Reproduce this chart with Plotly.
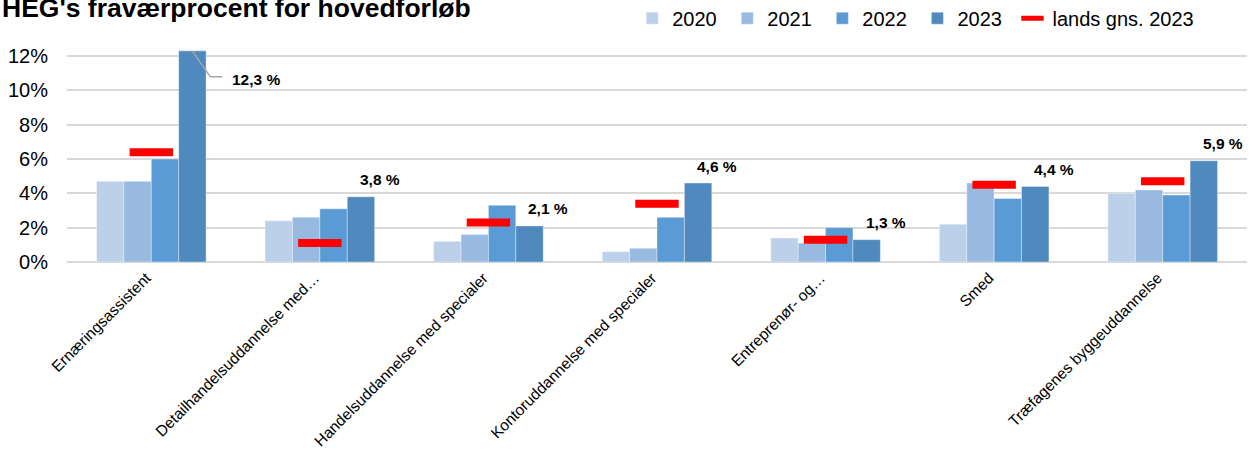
import plotly.graph_objects as go

categories = ["Ernæringsassistent", "Detailhandelsuddannelse med…", "Handelsuddannelse med specialer",
              "Kontoruddannelse med specialer", "Entreprenør- og…", "Smed", "Træfagenes byggeuddannelse"]
years = ["2020", "2021", "2022", "2023"]
v2020 = [4.7, 2.4, 1.2, 0.6, 1.4, 2.2, 4.0]
v2021 = [4.7, 2.6, 1.6, 0.8, 1.1, 4.6, 4.2]
v2022 = [6.0, 3.1, 3.3, 2.6, 2.0, 3.7, 3.9]
v2023 = [12.3, 3.8, 2.1, 4.6, 1.3, 4.4, 5.9]
lands_avg = [6.4, 1.1, 2.3, 3.4, 1.3, 4.5, 4.7]
avg_name = "lands gns. 2023"
ytick_vals = [0, 2, 4, 6, 8, 10, 12]
ytick_text = [f"{v}%" for v in ytick_vals]

colors = ["#BDD0EA", "#98B9E0", "#5B9BD5", "#4F89BD"]
FONT = "Liberation Sans, Arial, sans-serif"

fig = go.Figure()
for name, vals, col in zip(years, [v2020, v2021, v2022, v2023], colors):
    fig.add_trace(go.Bar(x=categories, y=vals, name=name + "\u00a0",
                         marker=dict(color=col, line=dict(color="rgba(255,255,255,0.6)", width=0.6))))

fig.add_trace(go.Scatter(x=categories, y=lands_avg, name=avg_name, mode="markers",
                         marker=dict(symbol="line-ew", size=31, color="#FF0000",
                                     line=dict(color="#FF0000", width=8))))

# data labels for 2023
for i, (c, v) in enumerate(zip(categories, v2023)):
    txt = f"{v:.1f}".replace(".", ",") + " %"
    if i == 0:
        fig.add_annotation(x=c, y=v, text=f"<b>{txt}</b>", showarrow=False,
                           xshift=105, yshift=-29, font=dict(size=15.5, color="#000000", family=FONT))
    else:
        fig.add_annotation(x=c, y=v, text=f"<b>{txt}</b>", showarrow=False,
                           xshift=60, yshift=17, yanchor="middle",
                           font=dict(size=15.5, color="#000000", family=FONT))

# leader line for the first label
fig.add_shape(type="path", xref="x", yref="y", xsizemode="pixel", ysizemode="pixel",
              xanchor=0, yanchor=v2023[0], path="M 41,0 L 59,-26 L 71,-26",
              line=dict(color="#A6A6A6", width=1.5))

fig.add_annotation(xref="paper", yref="paper", x=-0.057, y=1.2, xanchor="left", yanchor="middle",
                   text="<b>HEG's fraværprocent for hovedforløb</b>", showarrow=False,
                   font=dict(size=26.5, color="#000000", family=FONT))

fig.update_layout(
    width=1252, height=454,
    margin=dict(l=67, r=5, t=50, b=192, autoexpand=False),
    plot_bgcolor="white", paper_bgcolor="white",
    barmode="group", bargap=0.35, bargroupgap=0,
    font=dict(family=FONT, color="#000000"),
    showlegend=True,
    legend=dict(orientation="h", x=0.479, xanchor="left", y=1.15, yanchor="middle",
                font=dict(size=20, color="#000000"), bgcolor="rgba(0,0,0,0)",
                itemwidth=30, tracegroupgap=0),
    xaxis=dict(tickangle=-45, tickfont=dict(size=15.5, color="#000000"), showgrid=False,
               showline=False, ticks="", ticklabelshift=-5, ticklabelstandoff=3),
    yaxis=dict(range=[0, 12.35], tickmode="array", tickvals=ytick_vals, ticktext=ytick_text,
               tickfont=dict(size=20, color="#000000"), gridcolor="#D9D9D9", gridwidth=1.5,
               zeroline=True, zerolinecolor="#D9D9D9", zerolinewidth=1.5, showline=False,
               ticks="", ticklabelstandoff=18),
)

fig.write_html("out.html", config={"displayModeBar": False},
               post_script="document.body.style.margin='0';")
